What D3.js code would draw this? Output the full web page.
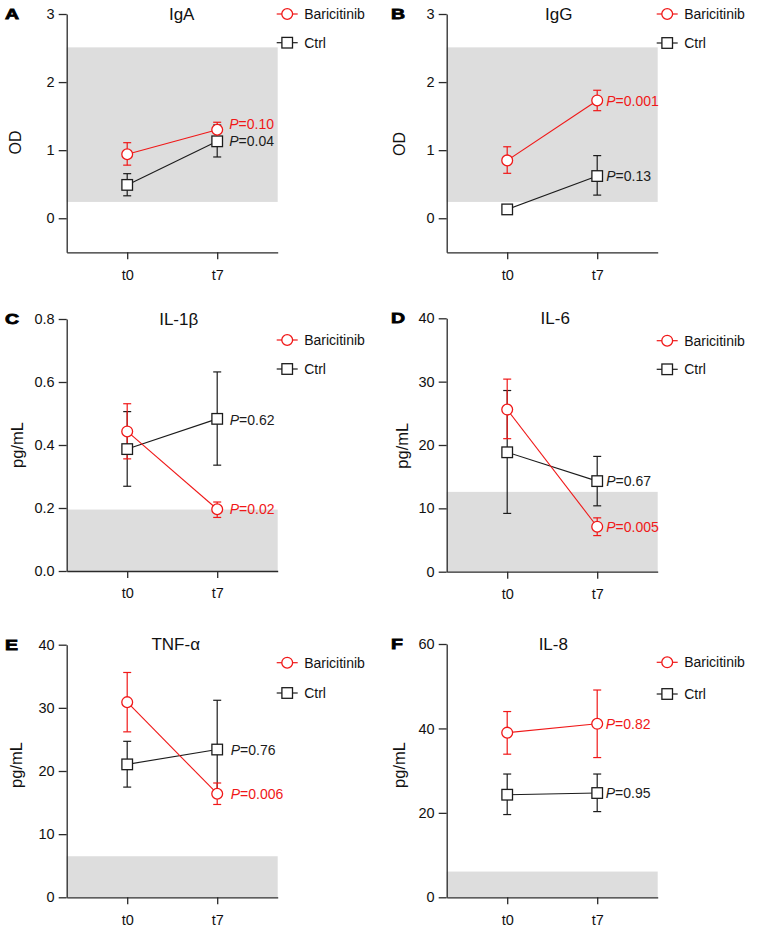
<!DOCTYPE html>
<html><head><meta charset="utf-8">
<script src="https://cdn.jsdelivr.net/npm/d3@7"></script>
<style>
body{margin:0;background:#fff}
svg{display:block}
text{font-family:"Liberation Sans",Arial,Helvetica,sans-serif}
</style>
</head><body>
<svg id="chart" width="760" height="942"></svg>
<script>
// ---------------- DATA ----------------
const timepoints = ["t0", "t7"];
const seriesNames = ["Baricitinib", "Ctrl"];
const panelLetters = ["A", "B", "C", "D", "E", "F"];
const panelTitles = ["IgA", "IgG", "IL-1β", "IL-6", "TNF-α", "IL-8"];
const yLabels = ["OD", "OD", "pg/mL", "pg/mL", "pg/mL", "pg/mL"];
const yDomains = [[-0.5, 3], [-0.5, 3], [0, 0.8], [0, 40], [0, 40], [0, 60]];
const yTicks = [[0, 1, 2, 3], [0, 1, 2, 3], [0, 0.2, 0.4, 0.6, 0.8], [0, 10, 20, 30, 40], [0, 10, 20, 30, 40], [0, 20, 40, 60]];
const normalRanges = [[0.24, 2.51], [0.24, 2.51], [0, 0.195], [0, 12.6], [0, 6.5], [0, 6.1]];

const bariMean = [[0.94, 1.30], [0.85, 1.73], [0.443, 0.196], [25.6, 7.1], [30.9, 16.4], [39.0, 41.1]];
const bariLow  = [[0.78, 1.18], [0.66, 1.58], [0.356, 0.170], [21.0, 5.7], [26.2, 14.7], [33.9, 33.1]];
const bariHigh = [[1.11, 1.41], [1.05, 1.88], [0.531, 0.219], [30.4, 8.5], [35.6, 18.1], [44.0, 49.1]];

const ctrlMean = [[0.49, 1.13], [0.13, 0.62], [0.387, 0.483], [18.85, 14.3], [21.05, 23.4], [24.3, 24.7]];
const ctrlLow  = [[0.33, 0.90], [0.08, 0.34], [0.269, 0.336], [9.2, 10.4], [17.45, 16.0], [19.6, 20.3]];
const ctrlHigh = [[0.655, 1.37], [0.18, 0.92], [0.506, 0.632], [28.6, 18.2], [24.7, 31.2], [29.2, 29.2]];

const bariP = ["0.10", "0.001", "0.02", "0.005", "0.006", "0.82"];
const ctrlP = ["0.04", "0.13", "0.62", "0.67", "0.76", "0.95"];

// ---------------- LAYOUT (positions / styles) ----------------
const RED = "#f01818", BLACK = "#1c1c1c", GREY = "#dddddd", AXIS = "#2a2a2a";
const frames = [
  {x0: 66.7,  top: 14,    bottom: 252.3, legY: [0, 28.7],  yl: [21.2, 142.5], tx: 115,   pdx: 12,  pdy: [-6, 0]},
  {x0: 446.7, top: 14,    bottom: 252.3, legY: [0, 29],    yl: [404.6, 144],  tx: 112,   pdx: 9,   pdy: [0, 0]},
  {x0: 66.7,  top: 319,   bottom: 571,   legY: [21, 50],   yl: [22.7, 445],   tx: 112,   pdx: 12.5,pdy: [0, 1]},
  {x0: 446.7, top: 318.3, bottom: 571.7, legY: [22.4, 51], yl: [407.5, 445.8],tx: 108.5, pdx: 9,   pdy: [0, 0]},
  {x0: 66.7,  top: 644.7, bottom: 897.3, legY: [18, 48.3], yl: [22.3, 765],   tx: 109,   pdx: 13.5,pdy: [0, 0]},
  {x0: 446.7, top: 644,   bottom: 897.3, legY: [18.3, 50], yl: [404.8, 765],  tx: 106.6, pdx: 8.5, pdy: [0, 0]}
];
const PW = 211;

const svg = d3.select("#chart");

function drawCircle(g, cx, cy) {
  g.append("circle").attr("cx", cx).attr("cy", cy).attr("r", 5.4)
    .attr("fill", "#fff").attr("stroke", RED).attr("stroke-width", 1.3);
}
function drawSquare(g, cx, cy) {
  g.append("rect").attr("x", cx - 5.3).attr("y", cy - 5.3).attr("width", 10.6).attr("height", 10.6)
    .attr("fill", "#fff").attr("stroke", BLACK).attr("stroke-width", 1.3);
}

panelTitles.forEach((title, i) => {
  const f = frames[i];
  const g = svg.append("g");
  const x = d3.scaleLinear().domain([-60.5 / 90, (PW - 60.5) / 90]).range([f.x0, f.x0 + PW]);
  const y = d3.scaleLinear().domain(yDomains[i]).range([f.bottom, f.top]);

  // normal range band
  const nr = normalRanges[i];
  g.append("rect").attr("x", f.x0).attr("width", PW)
    .attr("y", y(nr[1])).attr("height", y(nr[0]) - y(nr[1]))
    .attr("fill", GREY);

  // axes
  const fmt = i === 2 ? d3.format(".1f") : d3.format("d");
  const ya = g.append("g").attr("transform", `translate(${f.x0},0)`)
    .call(d3.axisLeft(y).tickValues(yTicks[i]).tickFormat(fmt).tickSize(8).tickSizeOuter(0).tickPadding(4));
  const xa = g.append("g").attr("transform", `translate(0,${f.bottom})`)
    .call(d3.axisBottom(x).tickValues([0, 1]).tickFormat(k => timepoints[k]).tickSize(7).tickSizeOuter(0).tickPadding(10));
  [ya, xa].forEach(a => {
    a.selectAll("path,line").attr("stroke", AXIS).attr("stroke-width", 1.3);
    a.selectAll("text").attr("font-size", 14.5).attr("fill", "#111")
      .style("font-family", '"Liberation Sans",Arial,sans-serif');
  });

  // series
  const series = [
    {mean: ctrlMean[i], low: ctrlLow[i], high: ctrlHigh[i], color: BLACK, marker: drawSquare, p: ctrlP[i], pdy: f.pdy[1]},
    {mean: bariMean[i], low: bariLow[i], high: bariHigh[i], color: RED, marker: drawCircle, p: bariP[i], pdy: f.pdy[0]}
  ];
  // error bars
  series.forEach(s => {
    s.mean.forEach((m, k) => {
      const cx = x(k);
      g.append("line").attr("x1", cx).attr("x2", cx).attr("y1", y(s.low[k])).attr("y2", y(s.high[k]))
        .attr("stroke", s.color).attr("stroke-width", 1.2);
      [s.low[k], s.high[k]].forEach(v => {
        g.append("line").attr("x1", cx - 4).attr("x2", cx + 4).attr("y1", y(v)).attr("y2", y(v))
          .attr("stroke", s.color).attr("stroke-width", 1.2);
      });
    });
  });
  // connecting lines
  series.forEach(s => {
    g.append("path").datum(s.mean)
      .attr("d", d3.line().x((d, k) => x(k)).y(d => y(d)))
      .attr("fill", "none").attr("stroke", s.color).attr("stroke-width", 1.1);
  });
  // markers
  series.forEach(s => { s.mean.forEach((m, k) => s.marker(g, x(k), y(m))); });
  // P labels
  series.forEach(s => {
    const t = g.append("text").attr("x", x(1) + f.pdx).attr("y", y(s.mean[1]) + s.pdy).attr("dy", "0.36em")
      .attr("font-size", 14).attr("fill", s.color);
    t.append("tspan").attr("font-style", "italic").text("P");
    t.append("tspan").text("=" + s.p);
  });

  // title
  g.append("text").attr("x", f.x0 + f.tx).attr("y", f.top + 5.5).attr("text-anchor", "middle")
    .attr("font-size", 17).attr("fill", "#111").text(title);
  // panel letter
  const lx = f.x0 < 200 ? 5 : 391;
  g.append("text").attr("transform", `translate(${lx},${f.top + 5}) scale(1.3,1)`)
    .attr("font-size", 15).attr("font-weight", "bold").attr("fill", "#000")
    .attr("stroke", "#000").attr("stroke-width", 0.8).text(panelLetters[i]);
  // y label
  g.append("text").attr("transform", `translate(${f.yl[0]},${f.yl[1]}) rotate(-90)`)
    .attr("text-anchor", "middle").attr("font-size", yLabels[i] === "OD" ? 16 : 16.5)
    .attr("fill", "#111").text(yLabels[i]);

  // legend
  const lmx = f.x0 + PW + 9.5;
  seriesNames.forEach((name, k) => {
    const ly = f.top + f.legY[k];
    const col = k === 0 ? RED : BLACK;
    g.append("line").attr("x1", lmx - 10.5).attr("x2", lmx + 10.5).attr("y1", ly).attr("y2", ly)
      .attr("stroke", col).attr("stroke-width", 1.2);
    if (k === 0) drawCircle(g, lmx, ly); else drawSquare(g, lmx, ly);
    g.append("text").attr("x", lmx + 17).attr("y", ly).attr("dy", "0.36em")
      .attr("font-size", 14).attr("fill", "#111").text(name);
  });
});
</script>
</body></html>
